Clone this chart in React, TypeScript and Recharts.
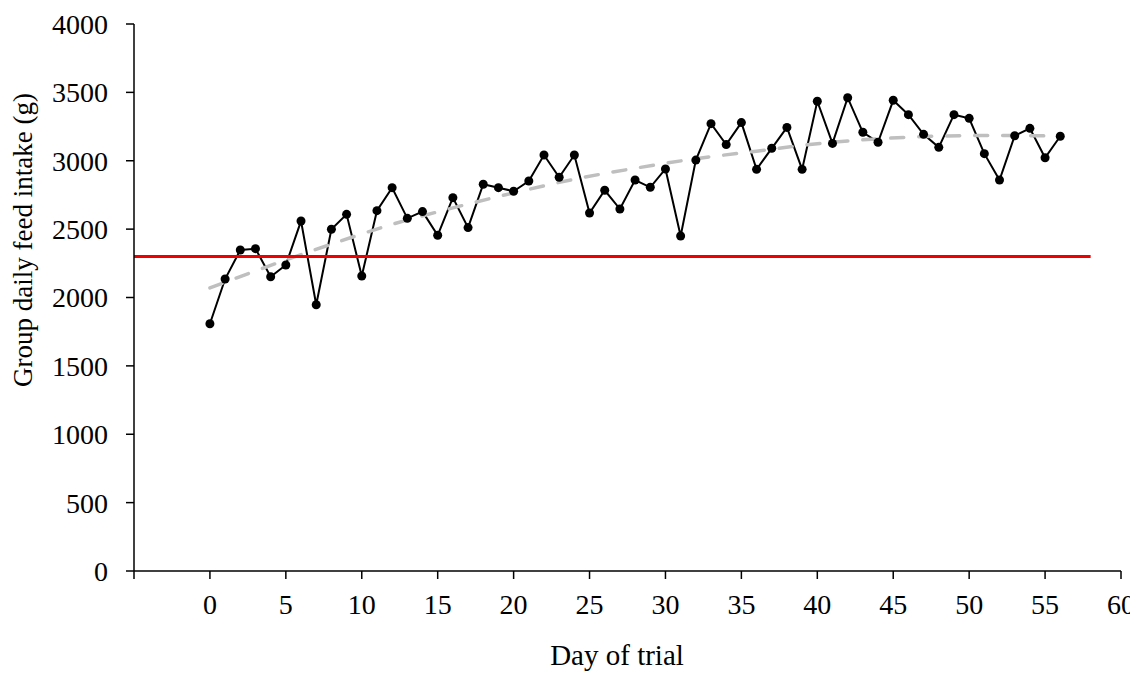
import { LineChart, Line, XAxis, YAxis, Label } from 'recharts'

// daily group intake, one value per day starting at day 0
const intake = [
  1808, 2135, 2347, 2357, 2152, 2238, 2559, 1947, 2499, 2608,
  2157, 2635, 2803, 2579, 2628, 2455, 2730, 2511, 2828, 2803,
  2777, 2852, 3042, 2879, 3042, 2618, 2784, 2647, 2859, 2806,
  2940, 2450, 3005, 3271, 3118, 3279, 2937, 3091, 3244, 2937,
  3435, 3127, 3461, 3208, 3135, 3442, 3337, 3193, 3098, 3337,
  3310, 3052, 2859, 3183, 3237, 3022, 3179,
]

// trend line
const trendDays = [0, 4, 8, 12, 16, 20, 24, 28, 32, 36, 40, 44, 48, 52, 56]
const trendValues = [2070, 2235, 2390, 2535, 2655, 2765, 2865, 2945, 3015, 3070, 3125, 3160, 3180, 3185, 3180]

// requirement line
const refDays = [-5, 58]
const refValue = 2300

const xTicks = [-5, 0, 5, 10, 15, 20, 25, 30, 35, 40, 45, 50, 55, 60]
const yTicks = [0, 500, 1000, 1500, 2000, 2500, 3000, 3500, 4000]

const FONT = '"Liberation Serif", "Times New Roman", serif'

const intakeData = intake.map((v, i) => ({ day: i, value: v }))
const trendData = trendDays.map((d, i) => ({ day: d, value: trendValues[i] }))
const refData = refDays.map((d) => ({ day: d, value: refValue }))

export default function App() {
  const tickStyle = { fontSize: 28, fill: '#000', fontFamily: FONT }
  return (
    <div style={{ width: 1130, height: 665 }}>
      <LineChart
        width={1130}
        height={665}
        margin={{ top: 16, right: 17, bottom: 8, left: 0 }}
        style={{ overflow: 'visible' }}
      >
        <XAxis
          dataKey="day"
          type="number"
          domain={[-5, 60]}
          ticks={xTicks}
          tickFormatter={(v: number) => (v === -5 ? '' : String(v))}
          tick={tickStyle}
          tickSize={8}
          tickMargin={15}
          height={94}
          axisLine={{ stroke: '#000', strokeWidth: 1.5 }}
          tickLine={{ stroke: '#000', strokeWidth: 1.5 }}
          allowDataOverflow
        >
          <Label
            content={() => (
              <text
                x={609}
                y={657}
                textAnchor="middle"
                style={{ fontSize: 29, fill: '#000', fontFamily: FONT }}
              >
                Day of trial
              </text>
            )}
          />
        </XAxis>
        <YAxis
          type="number"
          domain={[0, 4000]}
          ticks={yTicks}
          tick={tickStyle}
          tickSize={8}
          tickMargin={18}
          width={126}
          axisLine={{ stroke: '#000', strokeWidth: 1.5 }}
          tickLine={{ stroke: '#000', strokeWidth: 1.5 }}
        >
          <Label
            content={() => {
              const cx = 15
              const cy = 232
              return (
                <text
                  x={cx}
                  y={cy}
                  transform={`rotate(-90, ${cx}, ${cy})`}
                  textAnchor="middle"
                  dominantBaseline="central"
                  style={{ fontSize: 27, fill: '#000', fontFamily: FONT }}
                >
                  Group daily feed intake (g)
                </text>
              )
            }}
          />
        </YAxis>
        <Line
          data={intakeData}
          dataKey="value"
          stroke="#000"
          strokeWidth={2}
          dot={{ r: 4.5, fill: '#000', stroke: '#000', strokeWidth: 0 }}
          activeDot={false}
          isAnimationActive={false}
        />
        <Line
          data={trendData}
          dataKey="value"
          type="monotone"
          stroke="#BFBFBF"
          strokeWidth={3.5}
          strokeDasharray="13 15"
          strokeLinecap="round"
          dot={false}
          activeDot={false}
          isAnimationActive={false}
        />
        <Line
          data={refData}
          dataKey="value"
          stroke="#EE0000"
          strokeWidth={2.8}
          dot={false}
          activeDot={false}
          isAnimationActive={false}
        />
      </LineChart>
    </div>
  )
}
